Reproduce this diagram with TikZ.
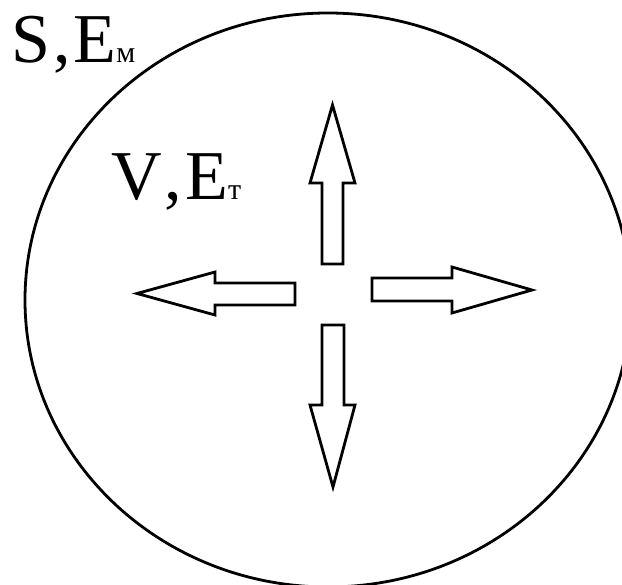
\documentclass[tikz,border=0pt]{standalone}
\usepackage{fontspec}
\setmainfont[Kerning=Off]{Liberation Serif}
\begin{document}
\begin{tikzpicture}[x=1pt,y=-1pt,
  outline/.style={draw=black,line width=2.8pt,line join=miter,fill=white},
  bigtxt/.style={anchor=base west,inner sep=0pt,font=\fontsize{70}{70}\selectfont}]
\useasboundingbox (0,0) rectangle (622,585);
\clip (0,0) rectangle (622,585);
\fill[white] (0,0) rectangle (622,585);
% sphere
\draw[line width=2.8pt] (328,300) ellipse [x radius=303, y radius=287];
% labels
\node[bigtxt] (surf) at (11,63) {S\kern3pt,\kern3pt E{\fontsize{30}{30}\selectfont м}};
\node[bigtxt] (vol) at (111,200) {V\kern3pt,\kern3pt E{\fontsize{30}{30}\selectfont т}};
% arrows
\draw[outline] (332.5,105) -- (355,183) -- (343,183) -- (343,264) -- (322,264) -- (322,183) -- (310,183) -- cycle;
\draw[outline] (333,487) -- (355,405) -- (344,405) -- (344,325) -- (322,325) -- (322,405) -- (310,405) -- cycle;
\draw[outline] (137,293.5) -- (215,272) -- (215,283) -- (295,283) -- (295,305) -- (215,305) -- (215,315) -- cycle;
\draw[outline] (532,290) -- (452,267) -- (452,278) -- (372,278) -- (372,301) -- (452,301) -- (452,313) -- cycle;
\end{tikzpicture}
\end{document}
